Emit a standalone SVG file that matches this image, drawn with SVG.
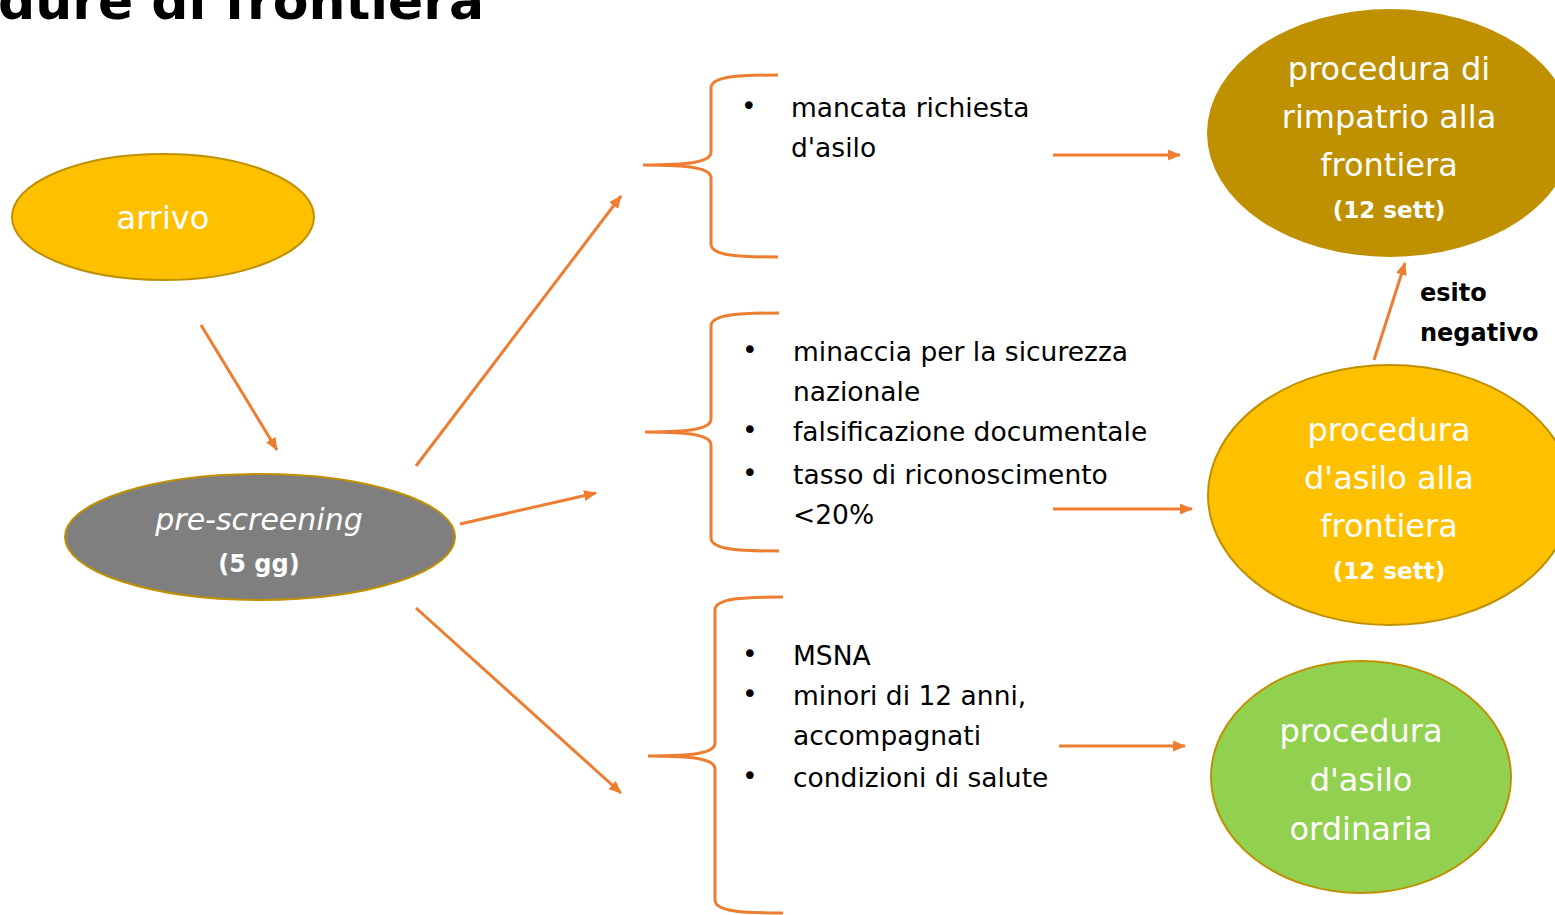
<svg xmlns="http://www.w3.org/2000/svg" width="1555" height="915" viewBox="0 0 1555 915">
<defs>
<marker id="ah" markerWidth="13" markerHeight="11" refX="12" refY="5.5" orient="auto" markerUnits="userSpaceOnUse">
<path d="M0,0 L13,5.5 L0,11 Z" fill="#ED7D31"/>
</marker>
<style>
.conn{stroke:#ED7D31;stroke-width:3;fill:none;marker-end:url(#ah)}
.brace{stroke:#ED7D31;stroke-width:3;fill:none}
.w{fill:#fff;font-family:"DejaVu Sans","Liberation Sans",sans-serif;text-anchor:middle}
.t{fill:#000;font-family:"DejaVu Sans","Liberation Sans",sans-serif;font-size:26.5px}
.b{font-weight:bold}
</style>
</defs>
<rect width="1555" height="915" fill="#fff"/>
<text x="-2" y="19" font-family="DejaVu Sans, Liberation Sans, sans-serif" font-weight="bold" font-size="52" fill="#000">dure di frontiera</text>

<g id="connectors">
<line class="conn" x1="201" y1="325" x2="277" y2="450"/>
<line class="conn" x1="416" y1="466" x2="621" y2="196"/>
<line class="conn" x1="460" y1="524" x2="596" y2="493"/>
<line class="conn" x1="416" y1="608" x2="621" y2="793"/>
<line class="conn" x1="1053" y1="155" x2="1180" y2="155"/>
<line class="conn" x1="1053" y1="509" x2="1192" y2="509"/>
<line class="conn" x1="1059" y1="746" x2="1185" y2="746"/>
<line class="conn" x1="1374" y1="360" x2="1405" y2="263"/>
</g>

<g id="node-arrivo">
<ellipse cx="163" cy="217" rx="151" ry="63" fill="#FFC000" stroke="#BF9000" stroke-width="2"/>
<text class="w" x="163" y="229" font-size="32">arrivo</text>
</g>

<g id="node-prescreening">
<ellipse cx="260" cy="537" rx="195" ry="63" fill="#7F7F7F" stroke="#BF9000" stroke-width="2"/>
<text class="w" x="259" y="530" font-size="30" font-style="italic">pre-screening</text>
<text class="w b" x="259" y="572" font-size="24">(5 gg)</text>
</g>

<g id="brace-top">
<path class="brace" d="M778,75 C740,75 711,76 711,88 L711,152 C711,162 690,165 643,165 C690,165 711,168 711,178 L711,244 C711,256 740,257 778,257"/>
<text class="t" x="741" y="115">•</text>
<text class="t" x="791" y="117">mancata richiesta</text>
<text class="t" x="791" y="157">d'asilo</text>
</g>

<g id="brace-mid">
<path class="brace" d="M779,313 C741,313 711,314 711,326 L711,419 C711,429 690,432 645,432 C690,432 711,435 711,445 L711,538 C711,550 741,551 779,551"/>
<text class="t" x="742" y="359">•</text>
<text class="t" x="793" y="361">minaccia per la sicurezza</text>
<text class="t" x="793" y="401">nazionale</text>
<text class="t" x="742" y="439">•</text>
<text class="t" x="793" y="441">falsificazione documentale</text>
<text class="t" x="742" y="482">•</text>
<text class="t" x="793" y="484">tasso di riconoscimento</text>
<text class="t" x="793" y="524">&lt;20%</text>
</g>

<g id="brace-bottom">
<path class="brace" d="M783,597 C745,597 715,598 715,610 L715,743 C715,753 694,756 648,756 C694,756 715,759 715,769 L715,900 C715,912 745,913 783,913"/>
<text class="t" x="742" y="663">•</text>
<text class="t" x="793" y="665">MSNA</text>
<text class="t" x="742" y="703">•</text>
<text class="t" x="793" y="705">minori di 12 anni,</text>
<text class="t" x="793" y="745">accompagnati</text>
<text class="t" x="742" y="785">•</text>
<text class="t" x="793" y="787">condizioni di salute</text>
</g>

<g id="node-rimpatrio">
<ellipse cx="1390" cy="133" rx="183" ry="124" fill="#BF9000"/>
<text class="w" x="1389" y="80" font-size="32">procedura di</text>
<text class="w" x="1389" y="128" font-size="32">rimpatrio alla</text>
<text class="w" x="1389" y="176" font-size="32">frontiera</text>
<text class="w b" x="1389" y="218" font-size="23">(12 sett)</text>
</g>

<g id="label-esito">
<text x="1420" y="301" font-family="DejaVu Sans, Liberation Sans, sans-serif" font-weight="bold" font-size="24" fill="#000">esito</text>
<text x="1420" y="341" font-family="DejaVu Sans, Liberation Sans, sans-serif" font-weight="bold" font-size="24" fill="#000">negativo</text>
</g>

<g id="node-asilo-frontiera">
<ellipse cx="1390" cy="495" rx="182" ry="130" fill="#FFC000" stroke="#BF9000" stroke-width="2"/>
<text class="w" x="1389" y="441" font-size="32">procedura</text>
<text class="w" x="1389" y="489" font-size="32">d'asilo alla</text>
<text class="w" x="1389" y="537" font-size="32">frontiera</text>
<text class="w b" x="1389" y="579" font-size="23">(12 sett)</text>
</g>

<g id="node-asilo-ordinaria">
<ellipse cx="1361" cy="777" rx="150" ry="116" fill="#92D050" stroke="#BF9000" stroke-width="2"/>
<text class="w" x="1361" y="742" font-size="32">procedura</text>
<text class="w" x="1361" y="791" font-size="32">d'asilo</text>
<text class="w" x="1361" y="840" font-size="32">ordinaria</text>
</g>
</svg>
